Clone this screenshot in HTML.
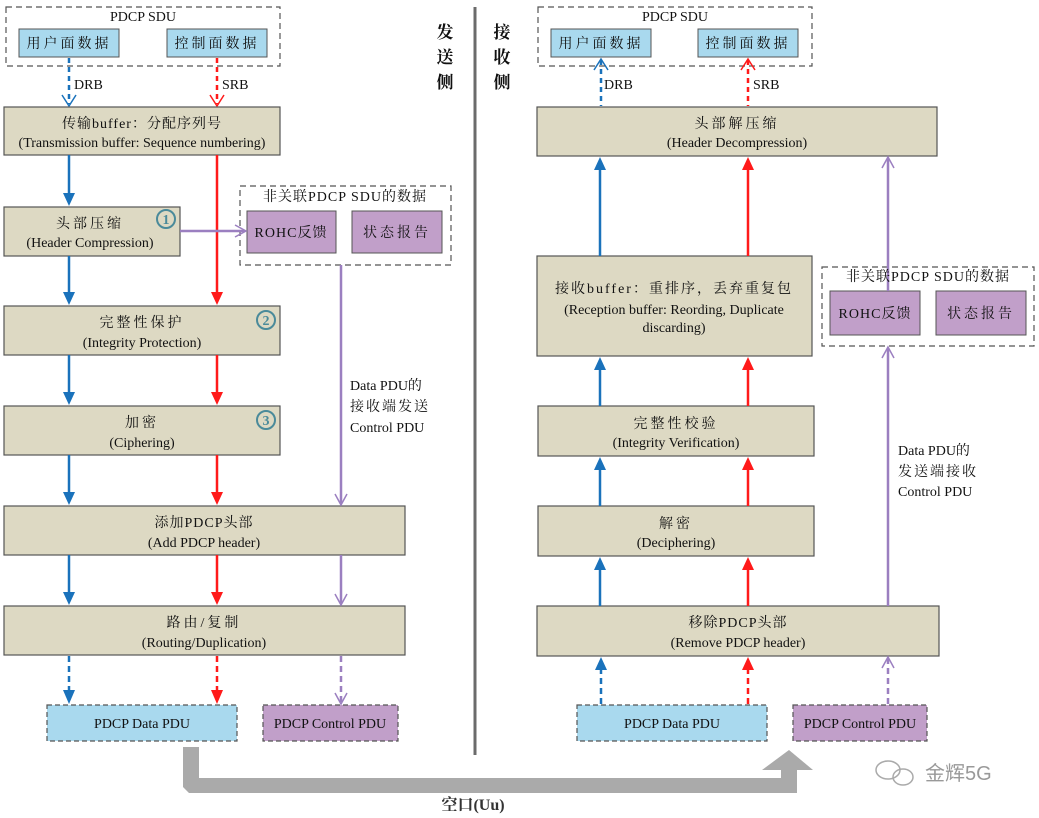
<!DOCTYPE html>
<html><head><meta charset="utf-8"><style>
html,body{margin:0;padding:0;background:#fff;}
svg{display:block;}
text{font-family:"Liberation Serif","Noto Serif CJK SC",serif;font-size:14px;fill:#111;}
.c{text-anchor:middle;}
.s{letter-spacing:3px;}
</style></head><body>
<svg width="1039" height="818" viewBox="0 0 1039 818" xmlns="http://www.w3.org/2000/svg">
<g fill="none" stroke-width="2.5">
<line x1="475" y1="7" x2="475" y2="755" stroke="#6b6b6b" stroke-width="3"/>
<rect x="6" y="7" width="274" height="59" stroke="#555" stroke-width="1.2" stroke-dasharray="6,4"/>
<rect x="19" y="29" width="100" height="28" fill="#a9d9ee" stroke="#555" stroke-width="1"/>
<rect x="167" y="29" width="100" height="28" fill="#a9d9ee" stroke="#555" stroke-width="1"/>
<line x1="69" y1="58" x2="69" y2="104" stroke="#1a72bb" stroke-dasharray="5,4"/>
<path d="M62,95 L69,106 L76,95" stroke="#1a72bb" stroke-width="1.5"/>
<line x1="217" y1="58" x2="217" y2="104" stroke="#ff1a1a" stroke-dasharray="5,4"/>
<path d="M210,95 L217,106 L224,95" stroke="#ff1a1a" stroke-width="1.5"/>

<rect x="4" y="107" width="276" height="48" fill="#ddd9c3" stroke="#555" stroke-width="1.2"/>
<rect x="4" y="207" width="176" height="49" fill="#ddd9c3" stroke="#555" stroke-width="1.2"/>
<rect x="4" y="306" width="276" height="49" fill="#ddd9c3" stroke="#555" stroke-width="1.2"/>
<rect x="4" y="406" width="276" height="49" fill="#ddd9c3" stroke="#555" stroke-width="1.2"/>
<rect x="4" y="506" width="401" height="49" fill="#ddd9c3" stroke="#555" stroke-width="1.2"/>
<rect x="4" y="606" width="401" height="49" fill="#ddd9c3" stroke="#555" stroke-width="1.2"/>

<rect x="240" y="186" width="211" height="79" stroke="#555" stroke-width="1.2" stroke-dasharray="6,4"/>
<rect x="247" y="211" width="89" height="42" fill="#c19fc9" stroke="#555" stroke-width="1"/>
<rect x="352" y="211" width="90" height="42" fill="#c19fc9" stroke="#555" stroke-width="1"/>

<line x1="69" y1="155" x2="69" y2="195" stroke="#1a72bb"/><path d="M63,193 L75,193 L69,206 Z" fill="#1a72bb"/>
<line x1="69" y1="256" x2="69" y2="294" stroke="#1a72bb"/><path d="M63,292 L75,292 L69,305 Z" fill="#1a72bb"/>
<line x1="69" y1="355" x2="69" y2="394" stroke="#1a72bb"/><path d="M63,392 L75,392 L69,405 Z" fill="#1a72bb"/>
<line x1="69" y1="455" x2="69" y2="494" stroke="#1a72bb"/><path d="M63,492 L75,492 L69,505 Z" fill="#1a72bb"/>
<line x1="69" y1="555" x2="69" y2="594" stroke="#1a72bb"/><path d="M63,592 L75,592 L69,605 Z" fill="#1a72bb"/>
<line x1="69" y1="656" x2="69" y2="692" stroke="#1a72bb" stroke-dasharray="6,4"/><path d="M63,690 L75,690 L69,704 Z" fill="#1a72bb"/>
<line x1="217" y1="155" x2="217" y2="294" stroke="#ff1a1a"/><path d="M211,292 L223,292 L217,305 Z" fill="#ff1a1a"/>
<line x1="217" y1="355" x2="217" y2="394" stroke="#ff1a1a"/><path d="M211,392 L223,392 L217,405 Z" fill="#ff1a1a"/>
<line x1="217" y1="455" x2="217" y2="494" stroke="#ff1a1a"/><path d="M211,492 L223,492 L217,505 Z" fill="#ff1a1a"/>
<line x1="217" y1="555" x2="217" y2="594" stroke="#ff1a1a"/><path d="M211,592 L223,592 L217,605 Z" fill="#ff1a1a"/>
<line x1="217" y1="656" x2="217" y2="692" stroke="#ff1a1a" stroke-dasharray="6,4"/><path d="M211,690 L223,690 L217,704 Z" fill="#ff1a1a"/>
<line x1="180" y1="231" x2="245" y2="231" stroke="#9b7fc0"/><path d="M235,225 L246,231 L235,237" stroke="#9b7fc0" stroke-width="1.5"/>
<line x1="341" y1="265" x2="341" y2="504" stroke="#9b7fc0"/><path d="M335,494 L341,505 L347,494" stroke="#9b7fc0" stroke-width="1.5"/>
<line x1="341" y1="555" x2="341" y2="604" stroke="#9b7fc0"/><path d="M335,594 L341,605 L347,594" stroke="#9b7fc0" stroke-width="1.5"/>
<line x1="341" y1="656" x2="341" y2="703" stroke="#9b7fc0" stroke-dasharray="6,4"/><path d="M335,693 L341,704 L347,693" stroke="#9b7fc0" stroke-width="1.5"/>

<rect x="47" y="705" width="190" height="36" fill="#a9d9ee" stroke="#555" stroke-width="1.2" stroke-dasharray="5,3"/>
<rect x="263" y="705" width="135" height="36" fill="#c19fc9" stroke="#555" stroke-width="1.2" stroke-dasharray="5,3"/>

<rect x="538" y="7" width="274" height="59" stroke="#555" stroke-width="1.2" stroke-dasharray="6,4"/>
<rect x="551" y="29" width="100" height="28" fill="#a9d9ee" stroke="#555" stroke-width="1"/>
<rect x="698" y="29" width="100" height="28" fill="#a9d9ee" stroke="#555" stroke-width="1"/>
<line x1="601" y1="60" x2="601" y2="106" stroke="#1a72bb" stroke-dasharray="5,4"/>
<path d="M594,70 L601,59 L608,70" stroke="#1a72bb" stroke-width="1.5"/>
<line x1="748" y1="60" x2="748" y2="106" stroke="#ff1a1a" stroke-dasharray="5,4"/>
<path d="M741,70 L748,59 L755,70" stroke="#ff1a1a" stroke-width="1.5"/>

<rect x="537" y="107" width="400" height="49" fill="#ddd9c3" stroke="#555" stroke-width="1.2"/>
<rect x="537" y="256" width="275" height="100" fill="#ddd9c3" stroke="#555" stroke-width="1.2"/>
<rect x="538" y="406" width="276" height="50" fill="#ddd9c3" stroke="#555" stroke-width="1.2"/>
<rect x="538" y="506" width="276" height="50" fill="#ddd9c3" stroke="#555" stroke-width="1.2"/>
<rect x="537" y="606" width="402" height="50" fill="#ddd9c3" stroke="#555" stroke-width="1.2"/>

<rect x="822" y="267" width="212" height="79" stroke="#555" stroke-width="1.2" stroke-dasharray="6,4"/>
<rect x="830" y="291" width="90" height="44" fill="#c19fc9" stroke="#555" stroke-width="1"/>
<rect x="936" y="291" width="90" height="44" fill="#c19fc9" stroke="#555" stroke-width="1"/>

<line x1="600" y1="256" x2="600" y2="168" stroke="#1a72bb"/><path d="M594,170 L606,170 L600,157 Z" fill="#1a72bb"/>
<line x1="600" y1="406" x2="600" y2="368" stroke="#1a72bb"/><path d="M594,370 L606,370 L600,357 Z" fill="#1a72bb"/>
<line x1="600" y1="506" x2="600" y2="468" stroke="#1a72bb"/><path d="M594,470 L606,470 L600,457 Z" fill="#1a72bb"/>
<line x1="600" y1="606" x2="600" y2="568" stroke="#1a72bb"/><path d="M594,570 L606,570 L600,557 Z" fill="#1a72bb"/>
<line x1="601" y1="704" x2="601" y2="668" stroke="#1a72bb" stroke-dasharray="6,4"/><path d="M595,670 L607,670 L601,657 Z" fill="#1a72bb"/>
<line x1="748" y1="256" x2="748" y2="168" stroke="#ff1a1a"/><path d="M742,170 L754,170 L748,157 Z" fill="#ff1a1a"/>
<line x1="748" y1="406" x2="748" y2="368" stroke="#ff1a1a"/><path d="M742,370 L754,370 L748,357 Z" fill="#ff1a1a"/>
<line x1="748" y1="506" x2="748" y2="468" stroke="#ff1a1a"/><path d="M742,470 L754,470 L748,457 Z" fill="#ff1a1a"/>
<line x1="748" y1="606" x2="748" y2="568" stroke="#ff1a1a"/><path d="M742,570 L754,570 L748,557 Z" fill="#ff1a1a"/>
<line x1="748" y1="704" x2="748" y2="668" stroke="#ff1a1a" stroke-dasharray="6,4"/><path d="M742,670 L754,670 L748,657 Z" fill="#ff1a1a"/>

<line x1="888" y1="291" x2="888" y2="158" stroke="#9b7fc0"/><path d="M882,168 L888,157 L894,168" stroke="#9b7fc0" stroke-width="1.5"/>
<line x1="888" y1="606" x2="888" y2="348" stroke="#9b7fc0"/><path d="M882,358 L888,347 L894,358" stroke="#9b7fc0" stroke-width="1.5"/>
<line x1="888" y1="704" x2="888" y2="658" stroke="#9b7fc0" stroke-dasharray="6,4"/><path d="M882,668 L888,657 L894,668" stroke="#9b7fc0" stroke-width="1.5"/>

<rect x="577" y="705" width="190" height="36" fill="#a9d9ee" stroke="#555" stroke-width="1.2" stroke-dasharray="5,3"/>
<rect x="793" y="705" width="134" height="36" fill="#c19fc9" stroke="#555" stroke-width="1.2" stroke-dasharray="5,3"/>

<path d="M183,747 L199,747 L199,778 L781,778 L781,770 L762,770 L789,750 L813,770 L797,770 L797,793 L189,793 L183,787 Z" fill="#aaaaaa" stroke="none"/>
<g stroke="#4a8a9a" stroke-width="2"><circle cx="166" cy="219" r="9"/><circle cx="266" cy="320" r="9"/><circle cx="266" cy="420" r="9"/></g>
</g>
<g font-weight="bold">
<text x="166" y="224" class="c" style="fill:#4a8a9a">1</text>
<text x="266" y="325" class="c" style="fill:#4a8a9a">2</text>
<text x="266" y="425" class="c" style="fill:#4a8a9a">3</text>
</g>
<text x="143" y="21" class="c">PDCP SDU</text>
<text x="69" y="48" class="c s">用户面数据</text>
<text x="217" y="48" class="c s">控制面数据</text>
<text x="74" y="89">DRB</text><text x="222" y="89">SRB</text>
<text x="142" y="128" class="c" style="letter-spacing:1px">传输buffer：分配序列号</text>
<text x="142" y="147" class="c">(Transmission buffer: Sequence numbering)</text>
<text x="90" y="228" class="c s">头部压缩</text>
<text x="90" y="247" class="c">(Header Compression)</text>
<text x="142" y="327" class="c s">完整性保护</text>
<text x="142" y="347" class="c">(Integrity Protection)</text>
<text x="142" y="427" class="c s">加密</text>
<text x="142" y="447" class="c">(Ciphering)</text>
<text x="204" y="527" class="c" style="letter-spacing:1px">添加PDCP头部</text>
<text x="204" y="547" class="c">(Add PDCP header)</text>
<text x="204" y="627" class="c s">路由/复制</text>
<text x="204" y="647" class="c">(Routing/Duplication)</text>
<text x="345" y="201" class="c" style="letter-spacing:1px">非关联PDCP SDU的数据</text>
<text x="291" y="237" class="c" style="letter-spacing:1px">ROHC反馈</text>
<text x="397" y="237" class="c s">状态报告</text>
<text x="350" y="390">Data PDU的</text>
<text x="350" y="411" style="letter-spacing:2px">接收端发送</text>
<text x="350" y="432">Control PDU</text>
<text x="142" y="728" class="c">PDCP Data PDU</text>
<text x="330" y="728" class="c">PDCP Control PDU</text>
<text x="445" y="38" class="c" style="font-size:17px;font-weight:bold">发</text>
<text x="445" y="63" class="c" style="font-size:17px;font-weight:bold">送</text>
<text x="445" y="88" class="c" style="font-size:17px;font-weight:bold">侧</text>
<text x="502" y="38" class="c" style="font-size:17px;font-weight:bold">接</text>
<text x="502" y="63" class="c" style="font-size:17px;font-weight:bold">收</text>
<text x="502" y="88" class="c" style="font-size:17px;font-weight:bold">侧</text>
<text x="675" y="21" class="c">PDCP SDU</text>
<text x="601" y="48" class="c s">用户面数据</text>
<text x="748" y="48" class="c s">控制面数据</text>
<text x="604" y="89">DRB</text><text x="753" y="89">SRB</text>
<text x="737" y="128" class="c s">头部解压缩</text>
<text x="737" y="147" class="c">(Header Decompression)</text>
<text x="674" y="293" class="c" style="letter-spacing:2px">接收buffer：重排序，丢弃重复包</text>
<text x="674" y="314" class="c">(Reception buffer: Reording, Duplicate</text>
<text x="674" y="332" class="c">discarding)</text>
<text x="676" y="428" class="c s">完整性校验</text>
<text x="676" y="447" class="c">(Integrity Verification)</text>
<text x="676" y="528" class="c s">解密</text>
<text x="676" y="547" class="c">(Deciphering)</text>
<text x="738" y="627" class="c" style="letter-spacing:1px">移除PDCP头部</text>
<text x="738" y="647" class="c">(Remove PDCP header)</text>
<text x="928" y="281" class="c" style="letter-spacing:1px">非关联PDCP SDU的数据</text>
<text x="875" y="318" class="c" style="letter-spacing:1px">ROHC反馈</text>
<text x="981" y="318" class="c s">状态报告</text>
<text x="898" y="455">Data PDU的</text>
<text x="898" y="476" style="letter-spacing:2px">发送端接收</text>
<text x="898" y="496">Control PDU</text>
<text x="672" y="728" class="c">PDCP Data PDU</text>
<text x="860" y="728" class="c">PDCP Control PDU</text>
<text x="473" y="810" class="c" style="font-size:16px;font-weight:bold;fill:#333">空口(Uu)</text>
<text x="925" y="780" style="font-size:20px;fill:#999;font-family:'Liberation Sans','Noto Sans CJK SC',sans-serif">金辉5G</text>
<g fill="none" stroke="#aaa" stroke-width="1.5"><ellipse cx="888" cy="770" rx="12" ry="9"/><ellipse cx="903" cy="777" rx="10" ry="8"/></g>
</svg>
</body></html>
